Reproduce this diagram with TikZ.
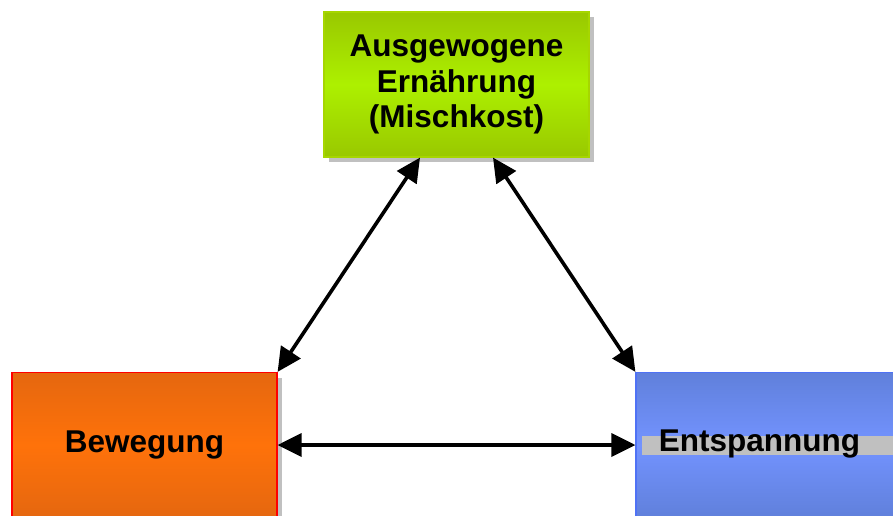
\documentclass[tikz,border=0pt]{standalone}
\usepackage{fontspec}
\setmainfont{Liberation Sans}
\usetikzlibrary{arrows.meta,shadows}
\definecolor{grTop}{HTML}{99C800}
\definecolor{grMid}{HTML}{ADF000}
\definecolor{grEdge}{HTML}{A6D600}
\definecolor{orTop}{HTML}{E5670F}
\definecolor{orMid}{HTML}{FF720A}
\definecolor{blTop}{HTML}{6080DB}
\definecolor{blMid}{HTML}{7393FF}
\definecolor{blEdge}{HTML}{4F72F5}
\definecolor{shadowgray}{HTML}{C0C0C0}
\tikzset{
  boxfont/.style={font=\bfseries\fontsize{31.5}{35.5}\selectfont},
  box/.style={rectangle, minimum width=265pt, minimum height=145pt, inner sep=0pt,
    align=center, boxfont, line width=1.2pt,
    drop shadow={shadow xshift=5pt, shadow yshift=-5pt, fill=shadowgray, opacity=1}},
  greenbox/.style={box, draw=grEdge, top color=grTop, bottom color=grTop, middle color=grMid},
  orangebox/.style={box, draw=red, top color=orTop, bottom color=orTop, middle color=orMid},
  bluebox/.style={box, draw=blEdge, top color=blTop, bottom color=blTop, middle color=blMid},
  link/.style={line width=3.6pt, {Triangle[length=24pt,width=23pt]}-{Triangle[length=24pt,width=23pt]}}
}
\begin{document}
\begin{tikzpicture}[x=1pt,y=-1pt]
\useasboundingbox (0,0) rectangle (893,516);
\clip (0,0) rectangle (893,516);
\node[greenbox] (diet) at (456.5,84.5) {Ausgewogene\\Ernährung\\(Mischkost)};
\node[orangebox] (move) at (144.5,445) {Bewegung};
\node[bluebox] (relax) at (768.5,445) {};
\fill[shadowgray] (642,436) rectangle (893,455);
\node[boxfont, inner sep=0pt] (relaxtext) at (759.5,444) {Entspannung};
\draw[link] ([xshift=-36.5pt]diet.south) -- (move.north east);
\draw[link] ([xshift=36.5pt]diet.south) -- (relax.north west);
\draw[link] (move.east) -- (relax.west);
\end{tikzpicture}
\end{document}
